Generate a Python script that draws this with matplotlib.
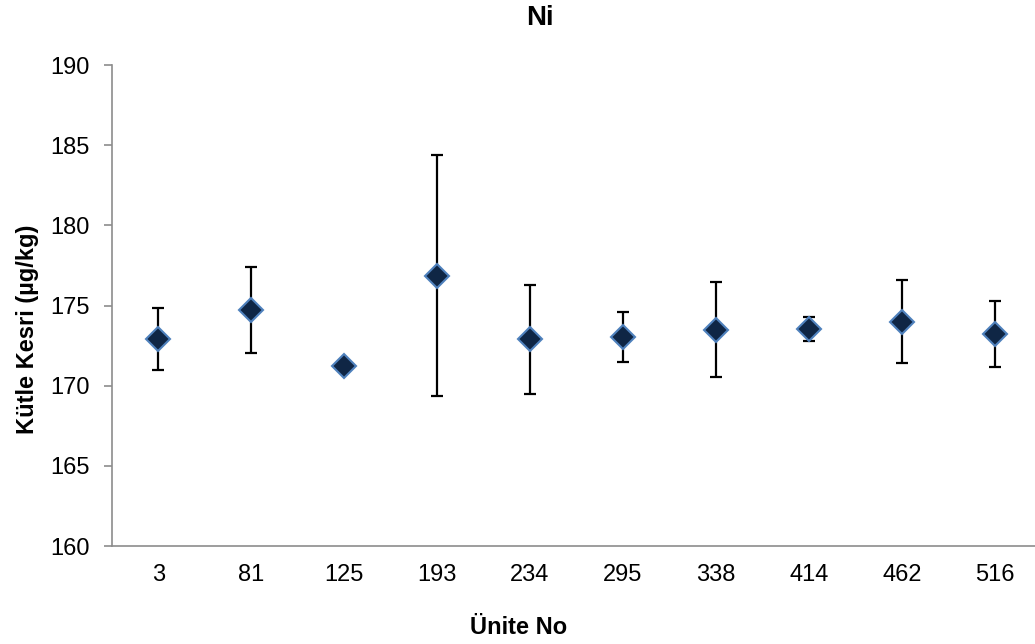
import matplotlib
matplotlib.use("Agg")
import matplotlib.pyplot as plt
import numpy as np

plt.rcParams['font.family'] = ['Liberation Sans', 'DejaVu Sans']

# unit numbers and measured mass fractions (ug/kg) with error half-widths
units = ['3', '81', '125', '193', '234', '295', '338', '414', '462', '516']
means = [172.93, 174.73, 171.21, 176.86, 172.89, 173.06, 173.50, 173.53, 174.00, 173.24]
errors = [1.94, 2.68, 0.0, 7.50, 3.40, 1.57, 2.96, 0.75, 2.60, 2.07]

axis_grey = '#8c8c8c'

fig = plt.figure(figsize=(10.35, 6.44), dpi=100)
ax = fig.add_axes([0.108, 0.152, 0.898, 0.747])

x = np.arange(len(units))
ax.errorbar(x, means, yerr=errors, fmt='none', ecolor='black',
            elinewidth=1.6, capsize=4.3, capthick=1.6, zorder=2)
ax.plot(x, means, linestyle='none', marker='D', markersize=12,
        markerfacecolor='#0f2645', markeredgecolor='#4f81bd',
        markeredgewidth=1.5, zorder=3)

ax.set_xlim(-0.5, len(units) - 0.5)
ax.set_ylim(160, 190)
ax.set_yticks(np.arange(160, 191, 5))
ax.set_xticks(x)
ax.set_xticklabels(units)

for side in ['top', 'right']:
    ax.spines[side].set_visible(False)
for side in ['left', 'bottom']:
    ax.spines[side].set_color(axis_grey)
    ax.spines[side].set_linewidth(1.2)

ax.tick_params(axis='y', length=6, width=1.2, color=axis_grey, labelsize=17, pad=10)
ax.tick_params(axis='x', length=0, labelsize=17, pad=13)

ax.set_title('Ni', fontsize=20, fontweight='bold', x=0.461, y=1.098, va='center', pad=0)
ax.set_xlabel('Ünite No', fontsize=17, fontweight='bold')
ax.xaxis.set_label_coords(0.438, -0.145)
ax.set_ylabel('Kütle Kesri (µg/kg)', fontsize=17, fontweight='bold')
ax.yaxis.set_label_coords(-0.078, 0.451)

fig.savefig('out.png', dpi=100)
